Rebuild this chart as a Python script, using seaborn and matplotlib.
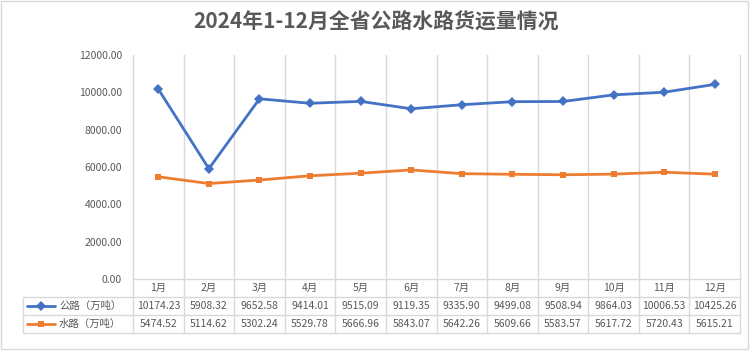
import matplotlib
matplotlib.use('Agg')
import matplotlib.pyplot as plt
from matplotlib.lines import Line2D
from matplotlib.patches import Rectangle
import numpy as np
import pandas as pd
import seaborn as sns

months = ['1月', '2月', '3月', '4月', '5月', '6月', '7月', '8月', '9月', '10月', '11月', '12月']
road = [10174.23, 5908.32, 9652.58, 9414.01, 9515.09, 9119.35, 9335.90, 9499.08, 9508.94, 9864.03, 10006.53, 10425.26]
water = [5474.52, 5114.62, 5302.24, 5529.78, 5666.96, 5843.07, 5642.26, 5609.66, 5583.57, 5617.72, 5720.43, 5615.21]
series_names = ['公路（万吨）', '水路（万吨）']
y_ticks = [0, 2000, 4000, 6000, 8000, 10000, 12000]
title = '2024年1-12月全省公路水路货运量情况'

BLUE = '#4472C4'
ORANGE = '#ED7D31'
GRID = '#D9D9D9'
TEXT = '#595959'

sns.set_style('white')
plt.rcParams['font.family'] = ['Noto Sans CJK SC', 'DejaVu Sans']

W, H = 752, 351
fig = plt.figure(figsize=(W / 100, H / 100), dpi=100)


def fx(px):
    return px / W


def fy(py):
    return 1 - py / H


# plot area in pixels
x0, x1 = 133, 740
y_top, y_zero = 55, 279
table_left = 23
row_lines = [297, 315, 333]
col_w = (x1 - x0) / len(months)

ax = fig.add_axes([fx(x0), fy(y_zero), fx(x1) - fx(x0), fy(y_top) - fy(y_zero)])

df = pd.DataFrame({
    'idx': list(range(len(months))) * 2,
    'value': road + water,
    'series': [series_names[0]] * len(months) + [series_names[1]] * len(months),
})
sns.lineplot(data=df, x='idx', y='value', hue='series', style='series',
             palette={series_names[0]: BLUE, series_names[1]: ORANGE},
             markers={series_names[0]: 'D', series_names[1]: 's'},
             dashes=False, linewidth=2, markersize=5, markeredgewidth=0,
             legend=False, ax=ax, zorder=3)

ax.set_xlim(-0.5, len(months) - 0.5)
ax.set_ylim(0, 12000)
ax.set_yticks(y_ticks)
ax.set_yticklabels([f'{v:.2f}' for v in y_ticks], fontsize=7.5, color=TEXT)
ax.set_xticks([])
ax.set_xlabel('')
ax.set_ylabel('')
ax.tick_params(axis='y', length=0, pad=8)
for s in ['top', 'right', 'left']:
    ax.spines[s].set_visible(False)
ax.spines['bottom'].set_color(GRID)
ax.spines['bottom'].set_linewidth(1)
ax.patch.set_alpha(0)

# vertical grid lines through plot and table
for i in range(len(months) + 1):
    xb = x0 + i * col_w
    fig.add_artist(Line2D([fx(xb), fx(xb)], [fy(y_top), fy(row_lines[-1])],
                          color=GRID, lw=1, zorder=0))
# table horizontal lines
for r in row_lines:
    fig.add_artist(Line2D([fx(table_left), fx(x1)], [fy(r), fy(r)], color=GRID, lw=1))
fig.add_artist(Line2D([fx(table_left), fx(table_left)], [fy(row_lines[0]), fy(row_lines[-1])],
                      color=GRID, lw=1))

# month labels
for i, m in enumerate(months):
    fig.text(fx(x0 + (i + 0.5) * col_w), fy(288), m, ha='center', va='center',
             fontsize=7.5, color=TEXT)

# table rows with legend keys
for r, (name, vals, col, mk) in enumerate(zip(series_names, [road, water],
                                                [BLUE, ORANGE], ['D', 's'])):
    yc = (row_lines[r] + row_lines[r + 1]) / 2
    fig.add_artist(Line2D([fx(27), fx(41), fx(55)], [fy(yc)] * 3, color=col, lw=2,
                          marker=mk, markevery=[1], markersize=5, markeredgewidth=0))
    fig.text(fx(59), fy(yc), name, ha='left', va='center', fontsize=7.5, color=TEXT)
    for i, v in enumerate(vals):
        fig.text(fx(x0 + (i + 0.5) * col_w), fy(yc), f'{v:.2f}', ha='center',
                 va='center', fontsize=7.5, color=TEXT)

fig.text(0.5, fy(22), title, ha='center', va='center', fontsize=15,
         fontweight='bold', color=TEXT)

fig.add_artist(Rectangle((fx(1), fy(349)), fx(747), fy(1) - fy(349), fill=False,
                         edgecolor=GRID, lw=1))

fig.savefig('out.png', dpi=100)
